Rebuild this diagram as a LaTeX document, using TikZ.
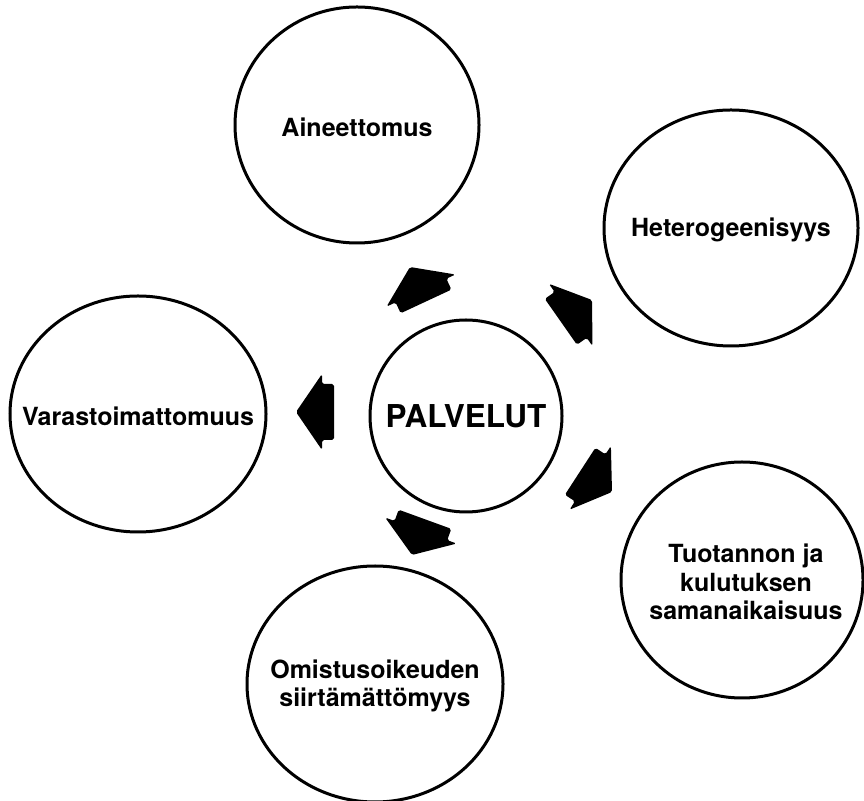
\documentclass[tikz,border=0pt]{standalone}
\usepackage{fontspec}
\setmainfont{TeX Gyre Heros}
\usetikzlibrary{shapes.geometric}
\begin{document}
\begin{tikzpicture}[x=1pt,y=1pt,
  bubble/.style={draw=black, line width=3pt, ellipse, inner sep=0pt},
  caption/.style={align=center, inner sep=0pt,
    font=\fontsize{25}{28.5}\selectfont\bfseries},
  hubcaption/.style={caption, font=\fontsize{31.5}{34}\selectfont\bfseries},
  blockarrow/.pic={
    \fill[black, rounded corners=1.8pt]
      (0,0) -- (-26,38) -- (-26,28) -- (-38,28) -- (-38,-28)
      -- (-26,-28) -- (-26,-38) -- cycle;
  }]
\useasboundingbox (0,0) rectangle (864,800);
\fill[white] (0,0) rectangle (864,800);

% central concept
\node[bubble, minimum width=192pt, minimum height=192pt] (palvelut) at (466,384) {};
\node[hubcaption] (palvelut-text) at (palvelut.center) {PALVELUT};

% surrounding characteristics
\node[bubble, minimum width=244pt, minimum height=236pt] (aine) at (357,675) {};
\node[bubble, minimum width=254pt, minimum height=236pt] (hetero) at (731,572) {};
\node[bubble, minimum width=256pt, minimum height=236pt] (varasto) at (138,386) {};
\node[bubble, minimum width=242pt, minimum height=236pt] (tuotanto) at (742,220) {};
\node[bubble, minimum width=256pt, minimum height=236pt] (omistus) at (375,116) {};

\node[caption] (aine-text) at ([yshift=-2pt]aine.center) {Aineettomus};
\node[caption] (hetero-text) at ([yshift=-2pt]hetero.center) {Heterogeenisyys};
\node[caption] (varasto-text) at ([yshift=-2pt]varasto.center) {Varastoimattomuus};
\node[caption] (tuotanto-text) at ([xshift=4pt,yshift=-2pt]tuotanto.center) {Tuotannon ja\\kulutuksen\\samanaikaisuus};
\node[caption] (omistus-text) at ([yshift=-2pt]omistus.center) {Omistusoikeuden\\siirtämättömyys};

% block arrows pointing outwards from the hub
\pic[rotate=115] at (410,533) {blockarrow};
\pic[rotate=35] at (592,500) {blockarrow};
\pic[rotate=180] at (296,388) {blockarrow};
\pic[rotate=-33] at (612,308) {blockarrow};
\pic[rotate=-110] at (412,245) {blockarrow};
\end{tikzpicture}
\end{document}
